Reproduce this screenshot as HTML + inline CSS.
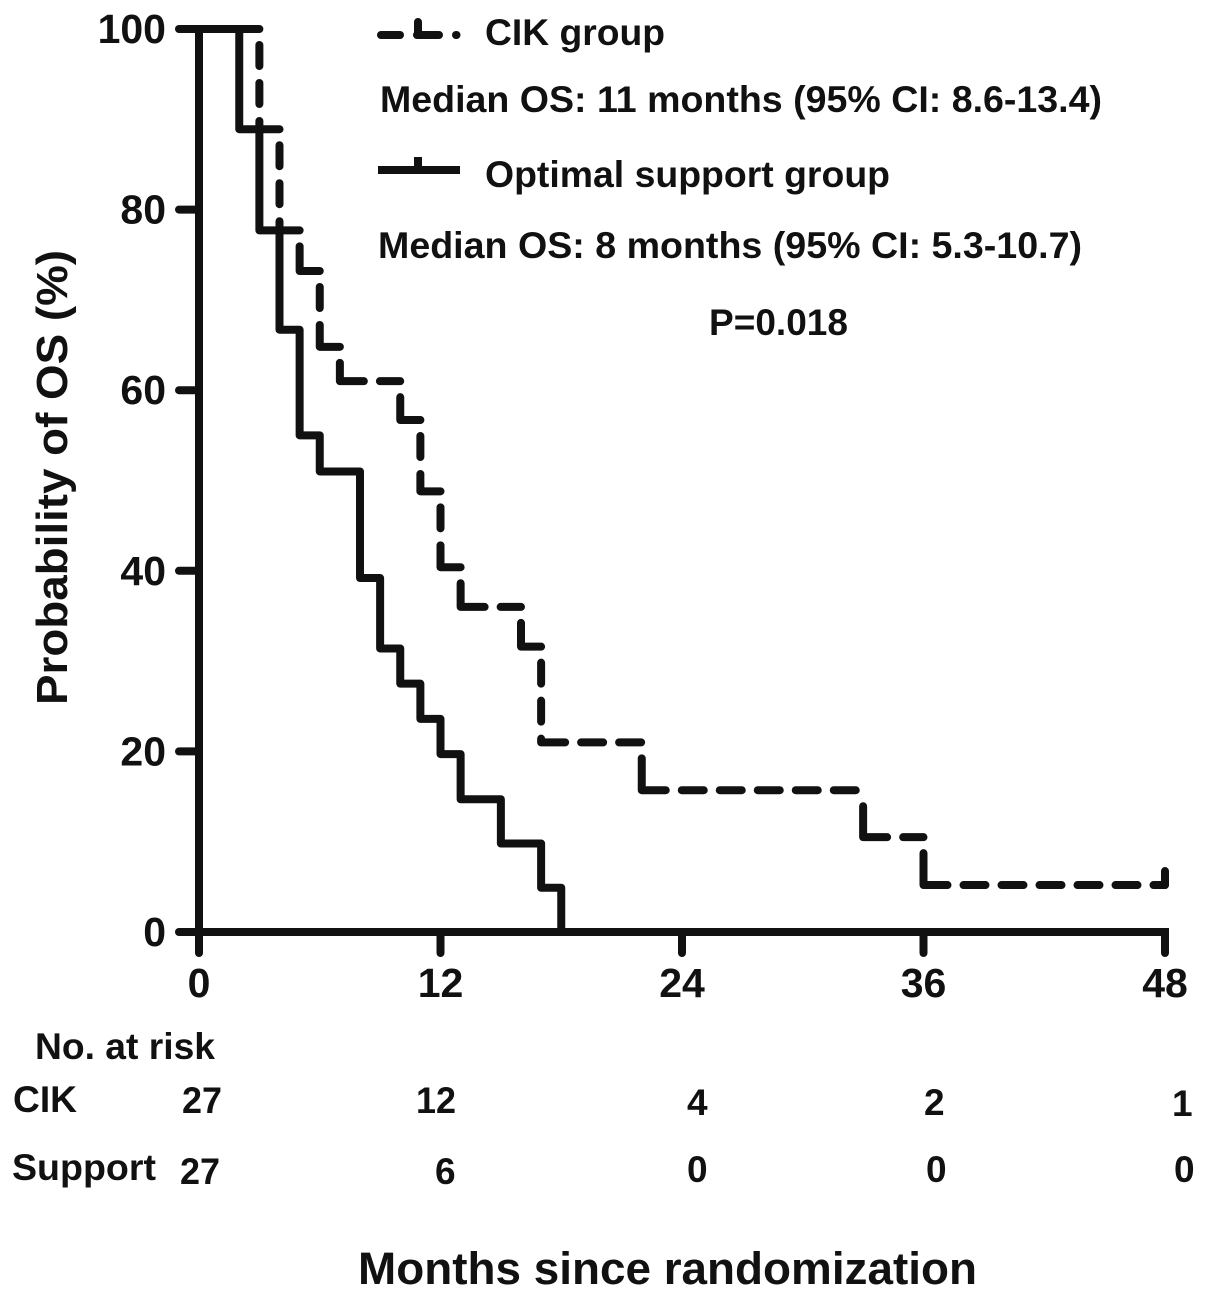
<!DOCTYPE html>
<html>
<head>
<meta charset="utf-8">
<title>Kaplan-Meier overall survival</title>
<style>
html,body{margin:0;padding:0;background:#fff;}
svg{display:block;}
text{font-family:"Liberation Sans",Arial,sans-serif;font-weight:bold;fill:#111;}
</style>
</head>
<body>
<svg id="chart" xmlns="http://www.w3.org/2000/svg" width="1205" height="1297" viewBox="0 0 1205 1297">
  <g id="series"></g>
  <g id="axes"></g>

  <text transform="translate(67,705) rotate(-90)" font-size="44" textLength="455" lengthAdjust="spacingAndGlyphs">Probability of OS (%)</text>

  <g>
    <path d="M381 35H400M417 35H439M456 35H456.5M418 35V22" fill="none" stroke="#111" stroke-width="8" stroke-linecap="round"/>
    <text x="485" y="45" font-size="37" textLength="180" lengthAdjust="spacingAndGlyphs">CIK group</text>
    <text x="380" y="112" font-size="37" textLength="722" lengthAdjust="spacingAndGlyphs">Median OS: 11 months (95% CI: 8.6-13.4)</text>
    <path d="M378 170H460M418 170V157" fill="none" stroke="#111" stroke-width="8"/>
    <text x="485" y="187" font-size="37" textLength="405" lengthAdjust="spacingAndGlyphs">Optimal support group</text>
    <text x="378" y="258" font-size="37" textLength="704" lengthAdjust="spacingAndGlyphs">Median OS: 8 months (95% CI: 5.3-10.7)</text>
    <text x="709" y="335" font-size="37" textLength="139" lengthAdjust="spacingAndGlyphs">P=0.018</text>
  </g>

  <g>
    <text x="35" y="1059" font-size="37" textLength="180" lengthAdjust="spacingAndGlyphs">No. at risk</text>
    <text x="13" y="1112" font-size="37" textLength="64" lengthAdjust="spacingAndGlyphs">CIK</text>
    <text x="182" y="1113" font-size="37" textLength="40" lengthAdjust="spacingAndGlyphs">27</text>
    <text x="416" y="1113" font-size="37" textLength="40" lengthAdjust="spacingAndGlyphs">12</text>
    <text x="687" y="1115" font-size="37">4</text>
    <text x="924" y="1115" font-size="37">2</text>
    <text x="1172" y="1116" font-size="37">1</text>
    <text x="12" y="1180" font-size="37" textLength="144" lengthAdjust="spacingAndGlyphs">Support</text>
    <text x="180" y="1184" font-size="37" textLength="40" lengthAdjust="spacingAndGlyphs">27</text>
    <text x="435" y="1184" font-size="37">6</text>
    <text x="687" y="1182" font-size="37">0</text>
    <text x="926" y="1182" font-size="37">0</text>
    <text x="1174" y="1182" font-size="37">0</text>
  </g>

  <text x="358" y="1284" font-size="45" textLength="619" lengthAdjust="spacingAndGlyphs">Months since randomization</text>
</svg>
<script>
var xTicks = [0, 12, 24, 36, 48];
var yTicks = [0, 20, 40, 60, 80, 100];
var cikMonths = [3, 4, 5, 6, 7, 10, 11, 12, 13, 16, 17, 22, 33, 36];
var cikSurvival = [88.9, 77.7, 73.2, 64.8, 61, 56.7, 48.8, 40.4, 36, 31.6, 21, 15.7, 10.5, 5.2];
var cikCensored = [48];
var supportMonths = [2, 3, 4, 5, 6, 8, 9, 10, 11, 12, 13, 15, 17, 18];
var supportSurvival = [88.9, 77.7, 66.7, 55, 51, 39.2, 31.4, 27.5, 23.6, 19.7, 14.7, 9.8, 4.9, 0];

var NS = 'http://www.w3.org/2000/svg';
function xs(m) { return 199 + m * (1165 - 199) / 48; }
function ys(v) { return 932 - v * (932 - 29) / 100; }

function stepPath(months, values) {
  var d = 'M' + xs(0) + ' ' + ys(100);
  for (var i = 0; i < months.length; i++) {
    d += 'H' + xs(months[i]) + 'V' + ys(values[i]);
  }
  return d;
}

/* dashes restart at every corner of the curve, as in the source figure */
function horizontalDashes(x0, x1, y) {
  var d = 'M' + x0 + ' ' + y + 'H' + Math.min(x0 + 24, x1);
  for (var s = x0 + 40; s < x1; s += 38) {
    d += 'M' + s + ' ' + y + 'H' + Math.min(s + 22, x1);
  }
  return d;
}
function verticalDashes(x, y0, y1) {
  var d = '';
  var s = y0 + 16;
  while (s < y1) {
    var e = s + 21;
    if (y1 - e < 13) e = y1;
    d += 'M' + x + ' ' + s + 'V' + e;
    s += 38;
  }
  return d;
}
function dashedStepPath(months, values, endMonth) {
  var d = 'M' + xs(0) + ' ' + ys(100) + 'H' + xs(months[0]);
  var prev = 100;
  for (var i = 0; i < months.length; i++) {
    d += verticalDashes(xs(months[i]), ys(prev), ys(values[i]));
    var next = i + 1 < months.length ? months[i + 1] : endMonth;
    d += horizontalDashes(xs(months[i]), xs(next), ys(values[i]));
    prev = values[i];
  }
  return d;
}

var series = document.getElementById('series');
var axes = document.getElementById('axes');

var cikLine = document.createElementNS(NS, 'path');


cikLine.setAttribute('d', dashedStepPath(cikMonths, cikSurvival, 48));
cikLine.setAttribute('fill', 'none');
cikLine.setAttribute('stroke', '#111');
cikLine.setAttribute('stroke-width', '8');
cikLine.setAttribute('stroke-linecap', 'round');
series.appendChild(cikLine);

cikCensored.forEach(function (m) {
  var last = cikSurvival[cikSurvival.length - 1];
  var tick = document.createElementNS(NS, 'line');
  
  
  tick.setAttribute('x1', xs(m));
  tick.setAttribute('x2', xs(m));
  tick.setAttribute('y1', ys(last));
  tick.setAttribute('y2', ys(last) - 14);
  tick.setAttribute('stroke', '#111');
  tick.setAttribute('stroke-width', '8');
  tick.setAttribute('stroke-linecap', 'round');
  series.appendChild(tick);
});

var supportLine = document.createElementNS(NS, 'path');


supportLine.setAttribute('d', stepPath(supportMonths, supportSurvival));
supportLine.setAttribute('fill', 'none');
supportLine.setAttribute('stroke', '#111');
supportLine.setAttribute('stroke-width', '8');
supportLine.setAttribute('stroke-linejoin', 'round');
series.appendChild(supportLine);

var yAxis = document.createElementNS(NS, 'line');


yAxis.setAttribute('x1', xs(0));
yAxis.setAttribute('x2', xs(0));
yAxis.setAttribute('y1', ys(100) - 4);
yAxis.setAttribute('y2', ys(0) + 3);
yAxis.setAttribute('stroke', '#111');
yAxis.setAttribute('stroke-width', '8');
axes.appendChild(yAxis);

var xAxis = document.createElementNS(NS, 'line');


xAxis.setAttribute('x1', xs(0) - 3);
xAxis.setAttribute('x2', xs(48) + 4);
xAxis.setAttribute('y1', ys(0));
xAxis.setAttribute('y2', ys(0));
xAxis.setAttribute('stroke', '#111');
xAxis.setAttribute('stroke-width', '8');
axes.appendChild(xAxis);

yTicks.forEach(function (v) {
  var t = document.createElementNS(NS, 'line');
  
  
  t.setAttribute('x1', 179);
  t.setAttribute('x2', xs(0));
  t.setAttribute('y1', ys(v));
  t.setAttribute('y2', ys(v));
  t.setAttribute('stroke', '#111');
  t.setAttribute('stroke-width', '8');
  t.setAttribute('stroke-linecap', 'round');
  axes.appendChild(t);
  var l = document.createElementNS(NS, 'text');
  
  
  l.setAttribute('x', 166);
  l.setAttribute('y', ys(v) + 14);
  l.setAttribute('text-anchor', 'end');
  l.setAttribute('font-size', '41');
  l.textContent = String(v);
  axes.appendChild(l);
});

xTicks.forEach(function (m) {
  var t = document.createElementNS(NS, 'line');
  
  
  t.setAttribute('x1', xs(m));
  t.setAttribute('x2', xs(m));
  t.setAttribute('y1', ys(0));
  t.setAttribute('y2', 953);
  t.setAttribute('stroke', '#111');
  t.setAttribute('stroke-width', '8');
  t.setAttribute('stroke-linecap', 'round');
  axes.appendChild(t);
  var l = document.createElementNS(NS, 'text');
  
  
  l.setAttribute('x', xs(m));
  l.setAttribute('y', 997);
  l.setAttribute('text-anchor', 'middle');
  l.setAttribute('font-size', '41');
  l.textContent = String(m);
  axes.appendChild(l);
});
</script>
</body>
</html>
